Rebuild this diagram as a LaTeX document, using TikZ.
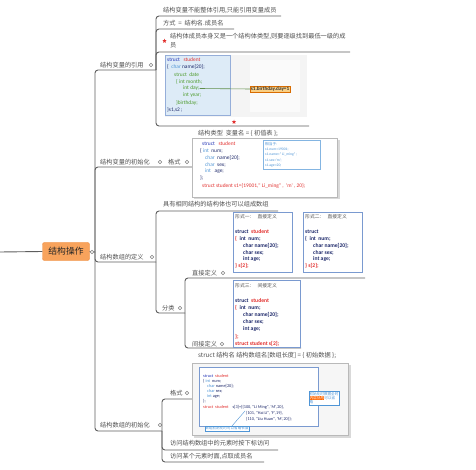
\documentclass[tikz,border=0pt]{standalone}
\usepackage{fontspec}
\setmainfont{Noto Sans CJK SC}
\newfontfamily\codef{Carlito}
\usetikzlibrary{shapes.geometric}
\definecolor{linegray}{HTML}{5E5E5E}
\definecolor{txtgray}{HTML}{505050}
\definecolor{rootfill}{HTML}{F8A35C}
\definecolor{rootdraw}{HTML}{EC8A3C}
\definecolor{kwblue}{HTML}{2233B5}
\definecolor{kwred}{HTML}{E2302E}
\definecolor{navy}{HTML}{1F2A6B}
\definecolor{ltblue}{HTML}{4F95D6}
\definecolor{cgreen}{HTML}{4C9A2A}
\definecolor{boxblue}{HTML}{7A9AD0}
\definecolor{paleblue}{HTML}{DDEBF7}
\definecolor{shadowgray}{HTML}{D9D9D9}
\definecolor{labfill}{HTML}{F9CF84}
\begin{document}
\begin{tikzpicture}[x=1pt,y=-1pt,
  ln/.style={draw=linegray, line width=0.9pt},
  lbl/.style={anchor=west, inner sep=0pt, text=txtgray, font=\fontsize{6.2}{7}\selectfont},
  coll/.style={circle, draw=linegray!80, fill=white, inner sep=0pt, minimum size=3.6pt, line width=0.45pt},
  cd/.style={anchor=west, inner sep=0pt, text=navy, font=\codef\fontsize{5.4}{6}\selectfont},
  cdb/.style={anchor=west, inner sep=0pt, text=navy, font=\codef\bfseries\fontsize{5.6}{6}\selectfont},
  cds/.style={anchor=west, inner sep=0pt, text=navy, font=\codef\fontsize{4.3}{5}\selectfont},
  hdr/.style={anchor=west, inner sep=0pt, text=txtgray, font=\fontsize{4.8}{5}\selectfont},
  rootbox/.style={draw=rootdraw, fill=rootfill, rounded corners=2pt, minimum width=47pt, minimum height=18pt, inner sep=0pt, font=\fontsize{8.8}{9}\selectfont, text=black!85},
  imgbox/.style={draw=gray!55, fill=white, line width=0.5pt},
  bluebox/.style={draw=boxblue, fill=white, line width=0.6pt},
  redstar/.style={star, star points=5, star point ratio=2.3, fill=kwred, inner sep=0pt, minimum size=4.5pt},
  tiny/.style={anchor=west, inner sep=0pt, text=ltblue, font=\fontsize{3.7}{4}\selectfont},
]
\useasboundingbox[fill=white] (0,0) rectangle (476,470);

% ---------- root and trunk ----------
\coordinate (L0) at (0,252);
\node[rootbox] (root) at (66,251.5) {结构操作};
\coordinate (T) at (95,252);
\draw[ln] (L0) -- (root.west);
\draw[ln] (root.east) -- (T);
\node[coll] (rc) at (92,252) {};

\coordinate (b1) at (156,70);
\coordinate (b2) at (192,167);
\coordinate (b3) at (156,262);
\coordinate (b4) at (162,431);
\draw[ln, rounded corners=3pt] (T) |- (b1);
\draw[ln, rounded corners=3pt] (T) |- (b2);
\draw[ln, rounded corners=3pt] (T) |- (b3);
\draw[ln, rounded corners=3pt] (T) |- (b4);

% ---------- branch 1 ----------
\node[lbl] (t1) at (100,65) {结构变量的引用};
\node[coll] (c1) at (151,65) {};
\coordinate (c11) at (281,16);
\coordinate (c12) at (234,29);
\coordinate (c13) at (350,52);
\coordinate (c14) at (309,126);
\draw[ln, rounded corners=3pt] (b1) |- (c11);
\draw[ln, rounded corners=3pt] (b1) |- (c12);
\draw[ln, rounded corners=3pt] (b1) |- (c13);
\draw[ln, rounded corners=3pt] (b1) |- (c14);
\node[lbl] (t11) at (163,10) {结构变量不能整体引用,只能引用变量成员};
\node[lbl] (t12) at (163,23.5) {方式\ \ =\ \ 结构名.成员名};
\node[redstar] (s1) at (164.5,41) {};
\node[lbl] (t13) at (170,36) {结构体成员本身又是一个结构体类型,则要逐级找到最低一级的成};
\node[lbl] (t13b) at (170,45) {员};

\fill[gray!9] (165,55) rectangle (307,117);
\fill[gray!4] (250,60) rectangle (300,112);
\draw[draw=boxblue!80, fill=paleblue, line width=0.5pt] (165,55) rectangle (230,115);
\node[cd] (k1) at (167,60) {\textcolor{kwblue}{struct}\ \ \ \textcolor{kwred}{student}};
\node[cd] (k2) at (167,67) {\{\ \ \textcolor{ltblue}{char} name[20];};
\node[cd, text=cgreen] (k3) at (174,74.5) {struct\ \ date};
\node[cd, text=cgreen] (k4) at (176,81.5) {\{\ int month;};
\node[cd, text=cgreen] (k5) at (183,88.5) {int day;};
\node[cd, text=cgreen] (k6) at (183,95.5) {int year;};
\node[cd, text=cgreen] (k7) at (176,102.5) {\}birthday;};
\node[cd] (k8) at (167,110) {\}s1,s2 ;};
\node[draw=orange!85!black, fill=labfill, inner sep=0.7pt, text=black!80, font=\codef\bfseries\fontsize{5.2}{6}\selectfont] (lab) at (270,89) {s1.birthday.day=1};
\draw[draw=cgreen!60!gray, line width=0.6pt] (k5.east) -- (lab.west);
\node[redstar] (s2) at (234,122) {};

% ---------- branch 2 ----------
\node[lbl] (t2) at (100,162) {结构变量的初始化};
\node[coll] (c2) at (160,162) {};
\node[lbl] (t21) at (168,162) {格式};
\node[coll] (c21) at (187,162) {};
\node[lbl] (h2) at (198,133) {结构类型\ \ 变量名 = \{ 初值表 \};};
\fill[shadowgray] (194,140) rectangle (339.5,199.5);
\draw[imgbox] (192,138) rectangle (337,197);
\node[cd] (m1) at (202,144) {\textcolor{kwblue}{struct}\ \ \ \textcolor{kwred}{student}};
\node[cd] (m2) at (200,151) {\{ \textcolor{ltblue}{int}\ \ num;};
\node[cd] (m3) at (205,157.5) {\textcolor{ltblue}{char}\ \ name[20];};
\node[cd] (m4) at (205,164.5) {\textcolor{ltblue}{char}\ \ sex;};
\node[cd] (m5) at (205,171.5) {\textcolor{ltblue}{int}\ \ \ age;};
\node[cd] (m6) at (200,178) {\};};
\node[cd, text=kwred] (m7) at (202,186) {struct student s1=\{19001," Li\_ming" ,\ \ 'm' , 20\};};
\draw[draw=ltblue!70, fill=white, line width=0.5pt] (263,140) rectangle (320,169);
\node[tiny] (n1) at (265,144) {相当于:};
\node[tiny] (n2) at (265,149.5) {\codef s1.num=19001;};
\node[tiny] (n3) at (265,155) {\codef s1.name=" Li\_ming" ;};
\node[tiny] (n4) at (265,160.5) {\codef s1.sex='m';};
\node[tiny] (n5) at (265,165.5) {\codef s1.age=20;};

% ---------- branch 3 ----------
\node[lbl] (t3) at (100,257) {结构数组的定义};
\node[coll] (c3) at (152,257) {};
\coordinate (c31) at (278,211);
\coordinate (c32) at (185,313);
\draw[ln, rounded corners=3pt] (b3) |- (c31);
\draw[ln, rounded corners=3pt] (b3) |- (c32);
\node[lbl] (t31) at (163,204) {具有相同结构的结构体也可以组成数组};
\node[lbl] (t32) at (162,308) {分类};
\node[coll] (c32c) at (180,308) {};
\coordinate (d1) at (365,278);
\coordinate (d2) at (301,348);
\draw[ln, rounded corners=3pt] (c32) |- (d1);
\draw[ln, rounded corners=3pt] (c32) |- (d2);
\node[lbl] (t33) at (192,273) {直接定义};
\node[coll] (c33) at (223,273) {};
\node[lbl] (t34) at (192,344) {间接定义};
\node[coll] (c34) at (222,344) {};

\draw[bluebox] (233,212) rectangle (292,272);
\node[hdr] (f1h) at (235,217) {形式一：\ \ \ 直接定义};
\node[cdb] (f11) at (235,232) {struct\ \ \textcolor{kwred}{student}};
\node[cdb] (f12) at (235,238.5) {\textcolor{kwred}{\{}\ \ int\ \ num;};
\node[cdb] (f13) at (243,245.5) {char name[20];};
\node[cdb] (f14) at (243,252.5) {char sex;};
\node[cdb] (f15) at (243,259) {int age;};
\node[cdb, text=kwred] (f16) at (235,266) {\} s[2];};

\draw[bluebox] (303,212) rectangle (362,272);
\node[hdr] (f2h) at (305,217) {形式二：\ \ \ 直接定义};
\node[cdb] (f21) at (305,232) {struct};
\node[cdb] (f22) at (305,238.5) {\{\ \ int\ \ num;};
\node[cdb] (f23) at (313,245.5) {char name[20];};
\node[cdb] (f24) at (313,252.5) {char sex;};
\node[cdb] (f25) at (313,259) {int age;};
\node[cdb, text=kwred] (f26) at (305,266) {\} s[2];};

\draw[bluebox] (233,280) rectangle (300,347);
\node[hdr] (f3h) at (235,285.5) {形式三：\ \ \ 间接定义};
\node[cdb] (f31) at (235,301) {struct\ \ \textcolor{kwred}{student}};
\node[cdb] (f32) at (235,307.5) {\textcolor{kwred}{\{}\ \ int\ \ num;};
\node[cdb] (f33) at (243,315) {char name[20];};
\node[cdb] (f34) at (243,322) {char sex;};
\node[cdb] (f35) at (243,329) {int age;};
\node[cdb, text=kwred] (f36) at (235,337) {\};};
\node[cdb, text=kwred] (f37) at (235,344) {struct student s[2];};

% ---------- branch 4 ----------
\node[lbl] (t4) at (100,425) {结构数组的初始化};
\node[coll] (c4) at (160,425) {};
\coordinate (e1) at (192,399);
\coordinate (e2) at (278,450);
\coordinate (e3) at (264,462);
\draw[ln, rounded corners=3pt] (b4) |- (e1);
\draw[ln, rounded corners=3pt] (b4) |- (e2);
\draw[ln, rounded corners=3pt] (b4) |- (e3);
\node[lbl] (t41) at (170,393) {格式};
\node[coll] (c41) at (187,393) {};
\node[lbl] (t42) at (170,443) {访问结构数组中的元素时按下标访问};
\node[lbl] (t43) at (170,456) {访问某个元素时面,点取成员名};
\node[lbl] (h4) at (198,355) {struct 结构名 结构数组名[数组长度] = \{ 初始数据 \};};
\fill[shadowgray] (194,365) rectangle (350.5,437.5);
\draw[imgbox, fill=gray!7] (192,363) rectangle (348,435);
\draw[bluebox] (199,367) rectangle (318,426);
\node[cds] (p1) at (203,376) {\textcolor{kwblue}{struct}\ \ \textcolor{kwred}{student}};
\node[cds] (p2) at (203,381) {\{ \textcolor{ltblue}{int}\ \ num;};
\node[cds] (p3) at (207,386) {\textcolor{ltblue}{char} name[20];};
\node[cds] (p4) at (207,391) {\textcolor{ltblue}{char} sex;};
\node[cds] (p5) at (207,396) {\textcolor{ltblue}{int} age;};
\node[cds] (p6) at (203,401) {\};};
\node[cds] (p7) at (203,407.5) {\textcolor{kwred}{struct\ \ student}\ \ \ \ s[3]=\{\{100, "Li Ming", 'M',20\},};
\node[cds] (p8) at (246,413.5) {\{101, "Hai Li", 'F',19\},};
\node[cds] (p9) at (246,419.5) {\{110, "Liu Huan", 'M',20\}\};};
\node[draw=ltblue, fill=white, line width=0.4pt, inner sep=0.7pt, text=ltblue, font=\fontsize{3.6}{4}\selectfont] (bl) at (227,428.5) {数组初始化时可以省略长度};
\draw[draw=ltblue, line width=0.4pt] (bl.north) ++(5,0) -- (245,411);
\node[draw=ltblue, fill=white, line width=0.4pt, inner sep=0.8pt, align=left, text=ltblue, font=\fontsize{3.6}{4.3}\selectfont] (co) at (324,398) {初始化时数据全时\\{\setlength{\fboxsep}{0.2pt}\colorbox{orange!80!red}{\textcolor{white}{内层括号}}}可以省\\略};
\end{tikzpicture}
\end{document}
